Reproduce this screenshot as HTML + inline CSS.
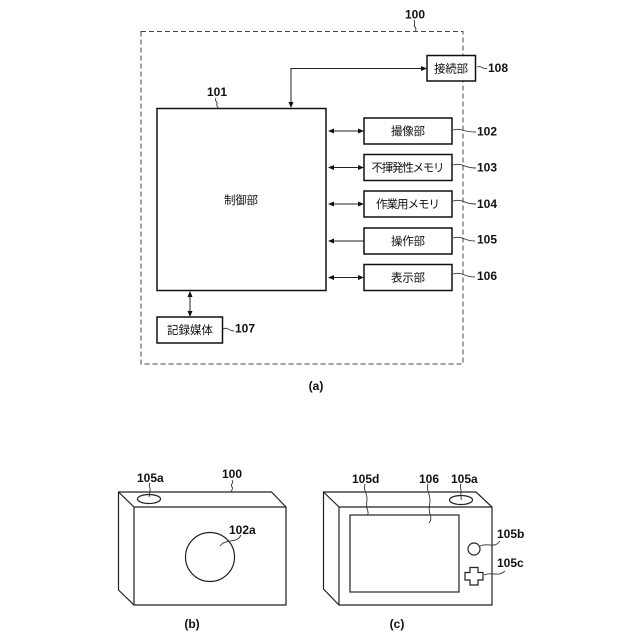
<!DOCTYPE html>
<html><head><meta charset="utf-8"><style>
html,body{margin:0;padding:0;background:#fff}
svg{display:block}
.j{font-family:"Liberation Sans","Noto Sans CJK JP",sans-serif;font-size:11.5px;text-anchor:middle;fill:#111}
.n{font-family:"Liberation Sans",sans-serif;font-size:12px;font-weight:bold;fill:#111}
.m{text-anchor:middle}
.b{fill:#fff;stroke:#111;stroke-width:1.5}
.l{fill:none;stroke:#222;stroke-width:1}
.c{fill:none;stroke:#333;stroke-width:.9}
.a{fill:#111;stroke:none}
</style></head><body>
<svg width="640" height="640" viewBox="0 0 640 640" xmlns="http://www.w3.org/2000/svg">
<rect x="141" y="31.500" width="322" height="332.500" fill="none" stroke="#444" stroke-width="1" stroke-dasharray="5 3"/>
<path class="c" d="M414 20c2 3-1 5 1 7s0 3 1 4"/>
<text class="n m" x="415" y="18.500">100</text>

<rect class="b" x="427" y="55.500" width="48.500" height="25.500"/>
<text class="j" x="451" y="72.500" textLength="34">接続部</text>
<path class="c" d="M477 67c3-1 4 0 6 1s3 1 4 0"/>
<text class="n" x="488" y="72">108</text>

<path class="l" d="M291 103V68.500H422"/>
<path class="a" d="M288.500 102h5l-2.500 6zM421 66l6 2.500-6 2.500z"/>

<rect class="b" x="157" y="108.500" width="169" height="182"/>
<text class="n m" x="217" y="96">101</text>
<path class="c" d="M216 98c-2 3 2 4 1 6s1 3 1 4"/>
<text class="j" x="241" y="204" textLength="34">制御部</text>

<g>
<rect class="b" x="364" y="118" width="88" height="26"/>
<rect class="b" x="364" y="154.500" width="88" height="26"/>
<rect class="b" x="364" y="191" width="88" height="26"/>
<rect class="b" x="364" y="228" width="88" height="26"/>
<rect class="b" x="364" y="264.500" width="88" height="26"/>
</g>
<text class="j" x="408" y="135" textLength="34">撮像部</text>
<text class="j" x="408" y="171.500" textLength="73">不揮発性メモリ</text>
<text class="j" x="408" y="208" textLength="64">作業用メモリ</text>
<text class="j" x="408" y="245" textLength="34">操作部</text>
<text class="j" x="408" y="281.500" textLength="34">表示部</text>

<path class="l" d="M330 131H362M330 167.500H362M330 204H362M330 241H364M330 277.500H362"/>
<path class="a" d="M328 131l6-2.500v5zM364 131l-6-2.500v5zM328 167.500l6-2.500v5zM364 167.500l-6-2.500v5zM328 204l6-2.500v5zM364 204l-6-2.500v5zM328 241l6-2.500v5zM328 277.500l6-2.500v5zM364 277.500l-6-2.500v5z"/>

<path class="c" d="M453 130c4-1 6-1 9 0s6 2 14 2M453 165c4-1 6-1 9 0s6 3 14 3M453 201c4-1 6-1 9 0s6 3 14 3M453 238c4-1 6-1 9 0s6 3 13 3M453 274c4-1 6-1 9 0s6 3 13 3M223 329c3-1 3-1 5 0s3 2 6 2"/>
<text class="n" x="477" y="135.500">102</text>
<text class="n" x="477" y="171.500">103</text>
<text class="n" x="477" y="208">104</text>
<text class="n" x="477" y="243.500">105</text>
<text class="n" x="477" y="280">106</text>

<rect class="b" x="157" y="317" width="65.500" height="26"/>
<text class="j" x="190" y="334" textLength="46">記録媒体</text>
<text class="n" x="235" y="332.500">107</text>
<path class="l" d="M190 294V314"/>
<path class="a" d="M190 291l2.500 6h-5zM190 317l2.500-6h-5z"/>

<text class="n m" x="316" y="390">(a)</text>

<!-- camera b -->
<g fill="none" stroke="#222" stroke-width="1.2">
<path d="M118.500 492H271.500L286 507V605H134L118.500 590Z"/>
<path d="M118.500 492L134 507V605M134 507H286"/>
<ellipse cx="149" cy="499" rx="11.500" ry="4.500"/>
<circle cx="210" cy="557" r="24.500"/>
</g>
<path class="c" d="M150 483c-2 3 1 5 0 8s0 4-1 6M232 480c2 3-2 5 0 7s-1 3-1 5M220 546c3-4 6-4 10-5s8 0 11-6"/>
<text class="n" x="137" y="482">105a</text>
<text class="n" x="222" y="478">100</text>
<text class="n" x="229" y="534">102a</text>
<text class="n m" x="192" y="628">(b)</text>

<!-- camera c -->
<g fill="none" stroke="#222" stroke-width="1.2">
<path d="M323.500 492H476L492 507V605H339L323.500 589Z"/>
<path d="M323.500 492L339 507V605M339 507H492"/>
<rect x="350" y="515" width="109" height="77"/>
<ellipse cx="461" cy="500" rx="11.500" ry="4.500"/>
<circle cx="474" cy="549" r="6"/>
<path d="M470 567.500h8v5h5v7.500h-5v5h-8v-5h-5v-7.500h5z"/>
</g>
<path class="c" d="M365 484c-2 6 2 9 2 14s-1 6 0 10s2 6 0 7M428 484c-2 6 2 10 2 16s-2 8 0 14s0 7-1 9M461 484c-2 3 1 6 0 9s1 4 0 7M480 546c5-2 6-1 10-1s6 1 10-4M484 575c5-2 6-1 10-1s6 1 11-3"/>
<text class="n" x="352" y="483">105d</text>
<text class="n" x="419" y="483">106</text>
<text class="n" x="451" y="483">105a</text>
<text class="n" x="497" y="538">105b</text>
<text class="n" x="497" y="567">105c</text>
<text class="n m" x="397" y="628">(c)</text>
</svg>
</body></html>
